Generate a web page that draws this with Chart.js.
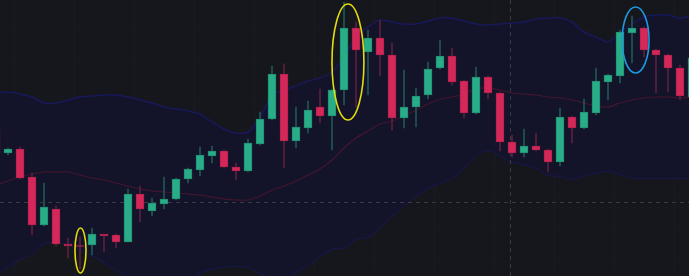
<!DOCTYPE html>
<html>
<head>
<meta charset="utf-8">
<script src="https://cdn.jsdelivr.net/npm/chart.js@4/dist/chart.umd.min.js"></script>
<style>
  html, body { margin: 0; padding: 0; background: #16171c; overflow: hidden; }
  #chart { display: block; }
</style>
</head>
<body>
<canvas id="chart" width="689" height="276"></canvas>
<script>
// K线数据（从 -1 开始，第一根只露出半根）
const firstIndex = -1;
const opens  = [146,123,127, 99, 51, 67, 32, 30, 31, 42, 41, 34, 82, 65, 72, 77, 97,106,120,125,109,105,132,157,202,135,148,169,160,186,248,224,238,221,158,169,181,208,220,195,163,199,183,134,123,130,126,114,159,148,163,194,200,243,248,226,221,208,179];
const closes = [123,127, 98, 51, 69, 32, 30,29.5,42, 40, 34, 82, 67, 73, 77, 97,107,121,125,109,105,133,157,202,135,149,166,160,186,248,226,238,221,158,169,180,207,220,194,163,199,183,134,123,130,126,114,159,148,164,195,201,244,248,226,221,208,180,218];
const highs  = [150,128,129,103, 93, 70, 38, 39, 48, 42, 42, 87, 90, 78, 99, 98,108,129,130,126,113,137,164,210,212,169,175,187,187,274,254,246,256,233,206,188,214,236,228,196,209,200,184,141,147,143,127,168,160,177,208,202,246,260,249,227,222,211,221];
const lows   = [118,121, 97, 41, 50, 30, 18,  7, 21, 24, 28, 34, 54, 60, 67, 76, 93,100,113,108, 96,104,131,156,108,128,143,153,126,171,169,181,200,146,148,149,177,207,191,158,162,177,125,119,119,125,104,110,133,147,161,176,193,213,219,183,184,176,176];

// 布林带
const upperBand  = [183,184,182,179,173,173,176,179,180,181,181,179,176,173,169,167,165,162,154,147,143,144,158,181,186,190,195,198,204,219,239,249,256,254,252,252,255,258,258,255,252,251,252,253,254,257,258,258,254,244,239,234,243,252,259,261,261,258,260];
const middleBand = [ 91, 95, 99,102,104,104,104,101, 98, 96, 93, 90, 87, 85, 84, 83, 82, 81, 79, 77, 76, 76, 80, 86, 90, 95,101,107,116,128,138,145,152,155,160,166,172,177,179,182,187,188,186,183,182,181,179,178,176,173,170,169,173,176,178,179,179,178,179];
const lowerBand  = [  0,  9, 17, 22, 33, 34, 32, 27, 21, 14,  6,  0, -4, -6, -6, -5, -3,  3,  7,  9, 10,  9,  3, -2, -2,  4, 11, 20, 27, 28, 37, 39, 49, 60, 71, 80, 88, 93, 98,108,120,126,121,114,112,108,101,100, 97,100,103,105,102, 98, 98, 98, 98, 98, 98];

// 网格与十字光标
const gridX = [3, 8, 13, 18, 23, 28, 33, 38, 43, 48, 53];
const gridY = [15, 48, 81, 114, 147, 180, 213, 246];
const crossX = 41.83;
const crossY = 74;

// 圈出的位置（数据坐标）
const marks = [
    { x: 6.04, y: 25.5, rx: 0.46, ry: 22.5, color: '#e3dd0c' },
    { x: 28.33, y: 214, rx: 1.33, ry: 58, color: '#e3dd0c' },
    { x: 52.3, y: 236, rx: 1.12, ry: 33, color: '#1c9be0' }
];

const UP = '#29ad89', DOWN = '#d5285a';
const UP_WICK = '#1f5753', DOWN_WICK = '#5c203e';

const idx = opens.map((_, i) => i + firstIndex);
const isUp = opens.map((o, i) => closes[i] >= o);

const overlay = {
    id: 'overlay',
    beforeDraw(chart) {
        const c = chart.ctx;
        c.save();
        c.fillStyle = '#16171c';
        c.fillRect(0, 0, chart.width, chart.height);
        c.restore();
    },
    afterDatasetDraw(chart, args) {
        // 十字光标画在中轨之后、K线之前
        if (args.index !== 2) return;
        const c = chart.ctx, xs = chart.scales.x, ys = chart.scales.y, a = chart.chartArea;
        c.save();
        c.strokeStyle = '#383b46';
        c.lineWidth = 1;
        c.setLineDash([4, 4]);
        const py = Math.round(ys.getPixelForValue(crossY)) + 0.5;
        c.beginPath(); c.moveTo(a.left, py); c.lineTo(a.right, py); c.stroke();
        const px = Math.round(xs.getPixelForValue(crossX)) + 0.5;
        c.beginPath(); c.moveTo(px, a.top); c.lineTo(px, a.bottom); c.stroke();
        c.restore();
    },
    afterDatasetsDraw(chart) {
        const c = chart.ctx, xs = chart.scales.x, ys = chart.scales.y;
        c.save();
        c.lineWidth = 1.6;
        marks.forEach(m => {
            const cx = xs.getPixelForValue(m.x), cy = ys.getPixelForValue(m.y);
            const rx = Math.abs(xs.getPixelForValue(m.x + m.rx) - cx);
            const ry = Math.abs(ys.getPixelForValue(m.y + m.ry) - cy);
            c.strokeStyle = m.color;
            c.beginPath();
            c.ellipse(cx, cy, rx, ry, 0, 0, Math.PI * 2);
            c.stroke();
        });
        c.restore();
    }
};

const ctx = document.getElementById('chart').getContext('2d');
new Chart(ctx, {
    data: {
        datasets: [
            {
                type: 'line',
                data: upperBand.map((v, i) => ({ x: idx[i], y: v })),
                borderColor: '#18185a',
                borderWidth: 1.5,
                backgroundColor: '#131429',
                fill: '+1',
                pointRadius: 0,
                tension: 0.3,
                order: 3
            },
            {
                type: 'line',
                data: lowerBand.map((v, i) => ({ x: idx[i], y: v })),
                borderColor: '#18185a',
                borderWidth: 1.5,
                fill: false,
                pointRadius: 0,
                tension: 0.3,
                order: 3
            },
            {
                type: 'line',
                data: middleBand.map((v, i) => ({ x: idx[i], y: v })),
                borderColor: '#44152f',
                borderWidth: 1.2,
                fill: false,
                pointRadius: 0,
                tension: 0.3,
                order: 2
            },
            {
                type: 'bar',
                data: lows.map((v, i) => ({ x: idx[i], y: [v, highs[i]] })),
                backgroundColor: isUp.map(u => u ? UP_WICK : DOWN_WICK),
                barThickness: 1,
                grouped: false,
                order: 1
            },
            {
                type: 'bar',
                data: opens.map((v, i) => ({ x: idx[i], y: [v, closes[i]] })),
                backgroundColor: isUp.map(u => u ? UP : DOWN),
                borderColor: isUp.map(u => u ? '#238f73' : '#b3234d'),
                borderWidth: 1,
                borderSkipped: false,
                barThickness: 8,
                minBarLength: 1,
                grouped: false,
                order: 0
            }
        ]
    },
    options: {
        responsive: false,
        animation: false,
        devicePixelRatio: 1,
        layout: { padding: 0 },
        plugins: {
            legend: { display: false },
            tooltip: { enabled: false }
        },
        scales: {
            x: {
                type: 'linear',
                min: -0.667,
                max: 56.75,
                offset: false,
                ticks: { display: false },
                grid: { color: '#1a1b22', drawTicks: false },
                border: { display: false },
                afterBuildTicks: s => { s.ticks = gridX.map(v => ({ value: v })); }
            },
            y: {
                min: 0,
                max: 276,
                ticks: { display: false },
                grid: { color: '#18191f', drawTicks: false },
                border: { display: false },
                afterBuildTicks: s => { s.ticks = gridY.map(v => ({ value: v })); }
            }
        }
    },
    plugins: [overlay]
});
</script>
</body>
</html>
